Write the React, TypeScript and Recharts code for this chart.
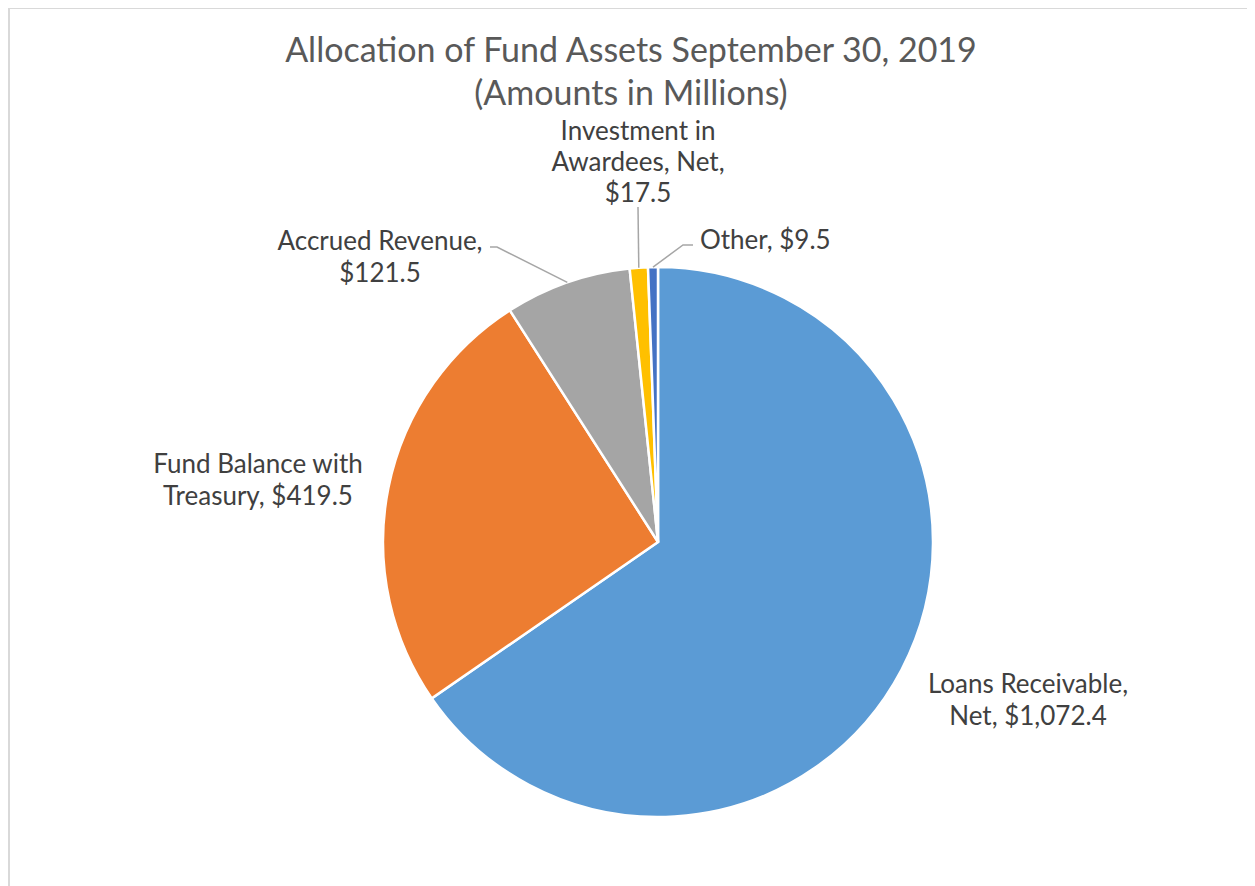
import React from "react";
import { PieChart, Pie, Cell } from "recharts";

const categories = [
  "Loans Receivable, Net",
  "Fund Balance with Treasury",
  "Accrued Revenue",
  "Investment in Awardees, Net",
  "Other",
];
const values = [1072.4, 419.5, 121.5, 17.5, 9.5];
const colors = ["#5B9BD5", "#ED7D31", "#A5A5A5", "#FFC000", "#4472C4"];
const labelText = [
  ["Loans Receivable,", "Net, $1,072.4"],
  ["Fund Balance with", "Treasury, $419.5"],
  ["Accrued Revenue,", "$121.5"],
  ["Investment in", "Awardees, Net,", "$17.5"],
  ["Other, $9.5"],
];
const titleLines = ["Allocation of Fund Assets September 30, 2019", "(Amounts in Millions)"];

// label layout relative to pie center
const labelLayout: { dx: number; dy: number; lineH: number; anchor: "middle" | "start"; elbow?: [number, number][] }[] = [
  { dx: 370, dy: 141, lineH: 32, anchor: "middle" },
  { dx: -400, dy: -79, lineH: 32, anchor: "middle" },
  { dx: -278, dy: -302, lineH: 32, anchor: "middle", elbow: [[-161, -295], [-168, -295]] },
  { dx: -20, dy: -412, lineH: 31, anchor: "middle", elbow: [[-20, -335]] },
  { dx: 42, dy: -303, lineH: 32, anchor: "start", elbow: [[25, -297], [35, -297]] },
];

const data = categories.map((name, i) => ({ name, value: values[i] }));

const FONT = "Lato, 'Open Sans', sans-serif";

const renderLabel = (props: any) => {
  const { cx, cy, midAngle, outerRadius, index } = props;
  const RAD = Math.PI / 180;
  const lay = labelLayout[index];
  const ex = cx + outerRadius * Math.cos(-midAngle * RAD);
  const ey = cy + outerRadius * Math.sin(-midAngle * RAD);
  const lines = labelText[index];
  let path = "";
  if (lay.elbow) {
    path = `M${ex},${ey}` + lay.elbow.map(([x, y]) => ` L${cx + x},${cy + y}`).join("");
  }
  return (
    <g key={`lbl-${index}`}>
      {path && <path d={path} stroke="#A6A6A6" strokeWidth={1.5} fill="none" />}
      {lines.map((t, j) => (
        <text
          key={j}
          x={cx + lay.dx}
          y={cy + lay.dy + j * lay.lineH}
          textAnchor={lay.anchor}
          dominantBaseline="central"
          fill="#404040"
          style={{ fontFamily: FONT, fontSize: 26 }}
        >
          {t}
        </text>
      ))}
    </g>
  );
};

export default function App() {
  return (
    <div style={{ position: "relative", width: 1247, height: 878, background: "#fff" }}>
      <div
        style={{
          position: "absolute",
          left: 0,
          top: -1,
          width: 1260,
          height: 900,
          borderTop: "2px solid #D9D9D9",
          borderLeft: "2px solid #D9D9D9",
          boxSizing: "border-box",
          pointerEvents: "none",
        }}
      />
      <div
        style={{
          position: "absolute",
          left: 0,
          top: 19,
          width: 1246,
          textAlign: "center",
          fontFamily: FONT,
          fontSize: 34,
          lineHeight: "43px",
          color: "#595959",
        }}
      >
        {titleLines.map((t, i) => (
          <div key={i}>{t}</div>
        ))}
      </div>
      <div style={{ position: "absolute", left: 0, top: 0 }}>
        <PieChart width={1247} height={878}>
          <Pie
            data={data}
            dataKey="value"
            nameKey="name"
            cx={645}
            cy={529}
            outerRadius={275}
            startAngle={90}
            endAngle={-270}
            stroke="#FFFFFF"
            strokeWidth={2.5}
            isAnimationActive={false}
            labelLine={false}
            label={renderLabel}
          >
            {data.map((d, i) => (
              <Cell key={d.name} fill={colors[i]} />
            ))}
          </Pie>
        </PieChart>
      </div>
    </div>
  );
}
